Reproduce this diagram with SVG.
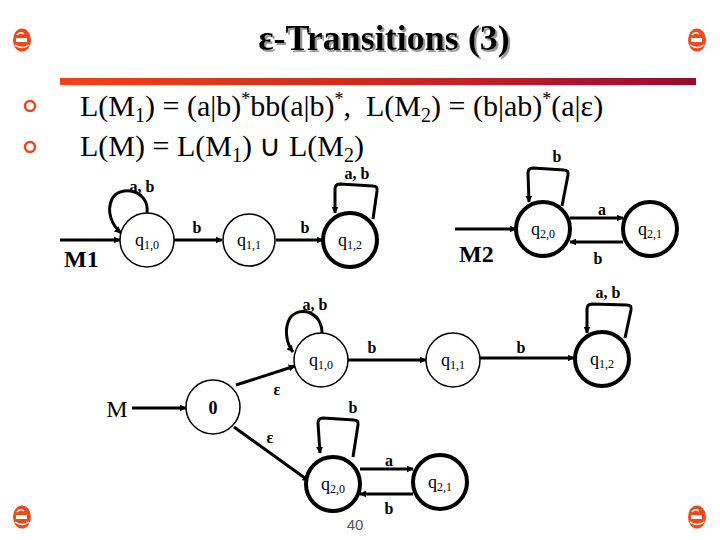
<svg xmlns="http://www.w3.org/2000/svg" width="720" height="540" viewBox="0 0 720 540">
<defs>
<linearGradient id="bar" x1="0" y1="0" x2="1" y2="0">
<stop offset="0" stop-color="#ee4418"/>
<stop offset="0.6" stop-color="#c42424"/>
<stop offset="1" stop-color="#9a0a2c"/>
</linearGradient>
<filter id="sh" x="-5%" y="-20%" width="110%" height="140%">
<feDropShadow dx="2" dy="2" stdDeviation="0.6" flood-color="#999"/>
</filter>
<marker id="ah" viewBox="0 0 10 10" refX="9" refY="5" markerWidth="7" markerHeight="7" markerUnits="userSpaceOnUse" orient="auto">
<path d="M0,0 L10,5 L0,10 z" fill="#000"/>
</marker>
<g id="icon">
<ellipse cx="0" cy="0" rx="9" ry="11.5" fill="#ec4a1c"/>
<path d="M-6,-2 L5,-2 L5,2 L-6,2 z" fill="#fff"/>
<path d="M-5,-5 Q-2,-9 2,-6" fill="none" stroke="#fff" stroke-width="1.5"/>
<path d="M-7,5 Q0,10 7,5" fill="none" stroke="#fff" stroke-width="1.5"/>
</g>
</defs>
<style>
.st{fill:#fff;stroke:#000;stroke-width:1.5}
.acc{fill:#fff;stroke:#000;stroke-width:4}
.e{fill:none;stroke:#000;stroke-width:3;marker-end:url(#ah)}
.lp{fill:none;stroke:#000;stroke-width:3;marker-end:url(#ah)}
.q{font-family:"Liberation Serif",serif;font-size:18px;text-anchor:middle}
.sub{font-size:12px}
.lb{font-family:"Liberation Serif",serif;font-size:16px;font-weight:bold;text-anchor:middle}
.big{font-family:"Liberation Serif",serif;font-size:24px;font-weight:bold}
.bt{font-family:"Liberation Serif",serif;font-size:30px}
</style>
<rect width="720" height="540" fill="#fff"/>
<use href="#icon" x="22" y="40"/>
<use href="#icon" x="697" y="40"/>
<use href="#icon" x="22" y="517"/>
<use href="#icon" x="697" y="517"/>
<g id="title">
<text x="384" y="50" font-family="Liberation Serif,serif" font-size="36" font-weight="bold" text-anchor="middle" filter="url(#sh)">ε-Transitions (3)</text>
</g>
<rect x="60" y="78" width="636" height="7" fill="url(#bar)"/>
<g id="bullets">
<circle cx="30" cy="106" r="5" fill="none" stroke="#e84820" stroke-width="2.5"/>
<circle cx="30" cy="147" r="5" fill="none" stroke="#e84820" stroke-width="2.5"/>
<text class="bt" x="80" y="116">L(M<tspan font-size="20" dy="6">1</tspan><tspan dy="-6">) = (a|b)</tspan><tspan font-size="18" dy="-11">*</tspan><tspan dy="11">bb(a|b)</tspan><tspan font-size="18" dy="-11">*</tspan><tspan dy="11">,&#160; L(M</tspan><tspan font-size="20" dy="6">2</tspan><tspan dy="-6">) = (b|ab)</tspan><tspan font-size="18" dy="-11">*</tspan><tspan dy="11">(a|ε)</tspan></text>
<text class="bt" x="80" y="156">L(M) = L(M<tspan font-size="20" dy="6">1</tspan><tspan dy="-6">) ∪ L(M</tspan><tspan font-size="20" dy="6">2</tspan><tspan dy="-6">)</tspan></text>
</g>
<g id="connectors">
<line class="e" x1="60" y1="240" x2="120" y2="240"/>
<line class="e" x1="174" y1="240" x2="222" y2="240"/>
<line class="e" x1="276" y1="240" x2="323" y2="240"/>
<path class="lp" d="M147,213 C150,190 120,184 112,199 C106,212 112,225 121,233"/>
<path class="lp" d="M373,219 L377,191 Q378,186 373,186 L340,184 Q335,184 335,189 L335,213"/>
<line class="e" x1="455" y1="229" x2="516" y2="229"/>
<line class="e" x1="570" y1="218" x2="623" y2="218"/>
<line class="e" x1="623" y1="242" x2="570" y2="242"/>
<path class="lp" d="M562,206 L568,175 Q569,170 564,170 L533,168 Q528,168 528,173 L529,202"/>
<line class="e" x1="132" y1="408" x2="186" y2="408"/>
<line class="e" x1="236" y1="385" x2="295" y2="366"/>
<line class="e" x1="234" y1="427" x2="309" y2="481"/>
<line class="e" x1="348" y1="360" x2="426" y2="360"/>
<line class="e" x1="480" y1="358" x2="574" y2="358"/>
<path class="lp" d="M322,333 C322,312 300,305 290,318 C284,328 286,343 293,352"/>
<path class="lp" d="M625,338 L631,310 Q632,305 627,305 L592,304 Q587,304 587,309 L587,333"/>
<path class="lp" d="M353,457 L358,425 Q359,420 354,420 L323,418 Q318,418 318,423 L320,453"/>
<line class="e" x1="360" y1="469" x2="413" y2="469"/>
<line class="e" x1="413" y1="494" x2="360" y2="494"/>
</g>
<g id="labels">
<text class="lb" x="142" y="192">a, b</text>
<text class="lb" x="197" y="233">b</text>
<text class="lb" x="305" y="233">b</text>
<text class="lb" x="357" y="179">a, b</text>
<text class="lb" x="557" y="162">b</text>
<text class="lb" x="602" y="215">a</text>
<text class="lb" x="598" y="264">b</text>
<text class="lb" x="315" y="310">a, b</text>
<text class="lb" x="372" y="353">b</text>
<text class="lb" x="521" y="353">b</text>
<text class="lb" x="608" y="298">a, b</text>
<text class="lb" x="277" y="395" font-size="14">ε</text>
<text class="lb" x="270" y="443" font-size="14">ε</text>
<text class="lb" x="353" y="413">b</text>
<text class="lb" x="389" y="466">a</text>
<text class="lb" x="389" y="514">b</text>
<text class="big" x="64" y="267">M1</text>
<text class="big" x="459" y="262">M2</text>
<text x="117" y="417" font-family="Liberation Serif,serif" font-size="24" text-anchor="middle">M</text>
<text x="355" y="530" font-family="Liberation Sans,sans-serif" font-size="15" fill="#555" text-anchor="middle">40</text>
</g>
<g id="q10top"><circle class="st" cx="147" cy="240" r="27"/><text class="q" x="147" y="246">q<tspan class="sub" dy="3">1,0</tspan></text></g>
<g id="q11top"><circle class="st" cx="249" cy="240" r="26"/><text class="q" x="249" y="246">q<tspan class="sub" dy="3">1,1</tspan></text></g>
<g id="q12top"><circle class="acc" cx="350" cy="240" r="27"/><text class="q" x="350" y="246">q<tspan class="sub" dy="3">1,2</tspan></text></g>
<g id="q20top"><circle class="acc" cx="543" cy="229" r="27"/><text class="q" x="543" y="235">q<tspan class="sub" dy="3">2,0</tspan></text></g>
<g id="q21top"><circle class="acc" cx="650" cy="229" r="27"/><text class="q" x="650" y="235">q<tspan class="sub" dy="3">2,1</tspan></text></g>
<g id="s0"><circle class="st" cx="213" cy="407" r="27"/><text x="213" y="414" font-family="Liberation Serif,serif" font-size="18" font-weight="bold" text-anchor="middle">0</text></g>
<g id="q10"><circle class="st" cx="321" cy="360" r="27"/><text class="q" x="321" y="366">q<tspan class="sub" dy="3">1,0</tspan></text></g>
<g id="q11"><circle class="st" cx="453" cy="360" r="27"/><text class="q" x="453" y="366">q<tspan class="sub" dy="3">1,1</tspan></text></g>
<g id="q12"><circle class="acc" cx="602" cy="359" r="27"/><text class="q" x="602" y="365">q<tspan class="sub" dy="3">1,2</tspan></text></g>
<g id="q20"><circle class="acc" cx="333" cy="484" r="27"/><text class="q" x="333" y="490">q<tspan class="sub" dy="3">2,0</tspan></text></g>
<g id="q21"><circle class="acc" cx="440" cy="482" r="27"/><text class="q" x="440" y="488">q<tspan class="sub" dy="3">2,1</tspan></text></g>
</svg>
